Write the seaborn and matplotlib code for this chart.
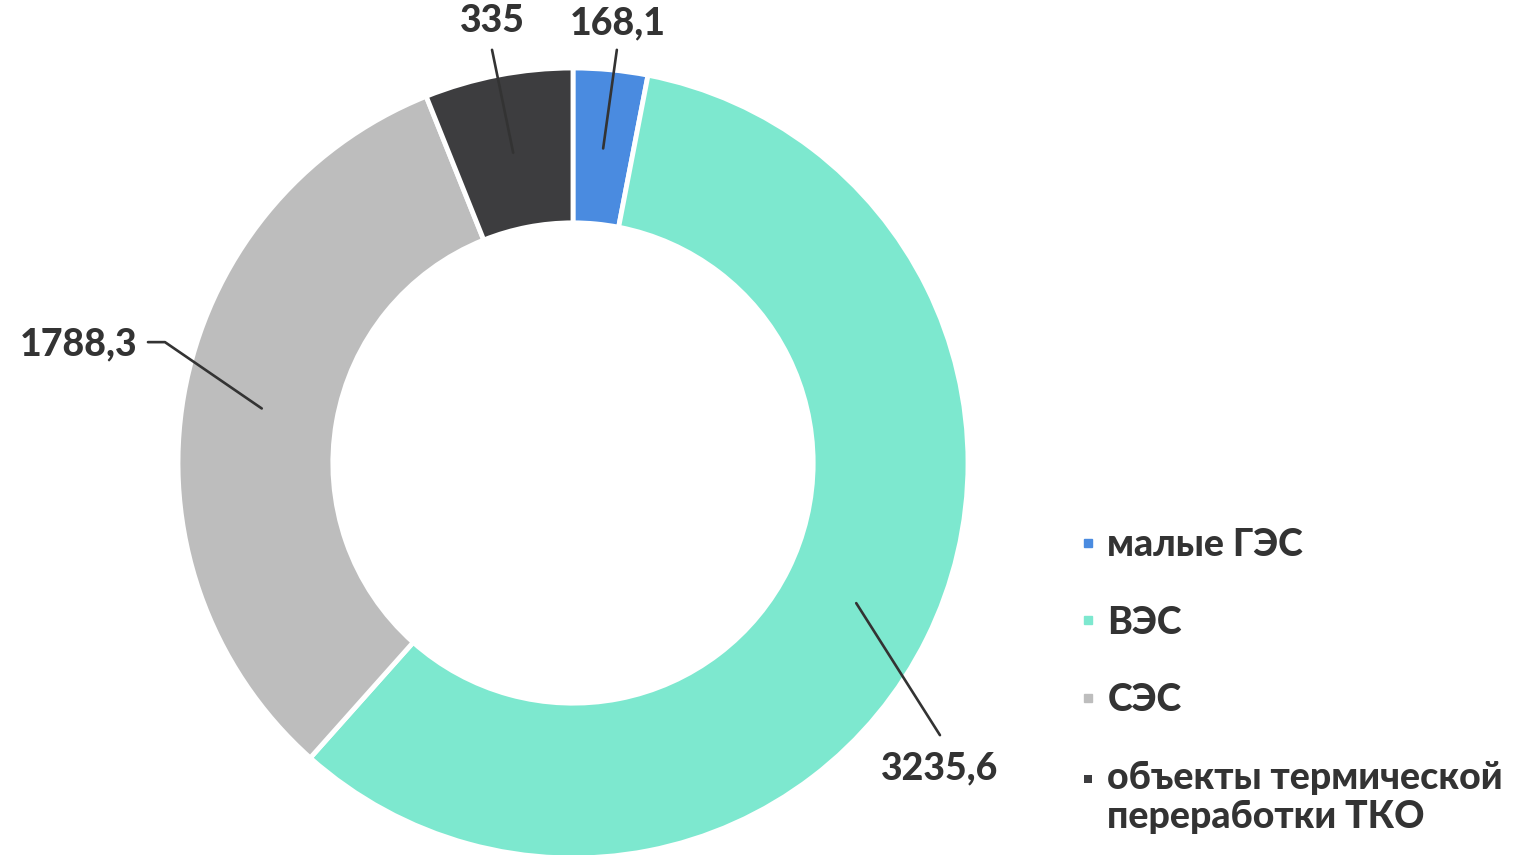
import matplotlib
matplotlib.use("Agg")
import matplotlib.pyplot as plt
from matplotlib.lines import Line2D
from matplotlib.path import Path
import seaborn as sns
import numpy as np

categories = ["малые ГЭС", "ВЭС", "СЭС", "объекты термической\nпереработки ТКО"]
values = [168.1, 3235.6, 1788.3, 335.0]
value_labels = ["168,1", "3235,6", "1788,3", "335"]
colors = ["#4a8be0", "#7de8cf", "#bdbdbd", "#3d3d3f"]

sns.set_theme(style="white")
plt.rcParams["font.family"] = ["Lato", "DejaVu Sans"]

W, H = 1524, 855
fig = plt.figure(figsize=(W / 100, H / 100), dpi=100)
ax = fig.add_axes([0, 0, 1, 1])
cx, cy, R = 573, 392, 395  # pixel centre (from bottom-left) and radius

wedges, _ = ax.pie(values, colors=colors, startangle=90, counterclock=False,
                   radius=1.0, wedgeprops=dict(width=0.392, edgecolor="white", linewidth=3.5))
ax.set_aspect("auto")
ax.set_xlim(-cx / R, (W - cx) / R)
ax.set_ylim(-cy / R, (H - cy) / R)
ax.axis("off")

txt_kw = dict(fontsize=27, fontweight="black", color="#333333")
line_kw = dict(color="#333333", lw=1.9)

# label layout: (line end, text position, ha, va, elbow)
layout = {
    "168,1": ((0.111, 1.046), (0.114, 1.112), "center", "center", None),
    "335": ((-0.205, 1.046), (-0.203, 1.118), "center", "center", None),
    "1788,3": ((-1.076, 0.306), (-1.102, 0.299), "right", "center", (-1.033, 0.306)),
    "3235,6": ((0.929, -0.689), (0.929, -0.772), "center", "center", None),
}

for w, lab in zip(wedges, value_labels):
    mid = np.deg2rad((w.theta1 + w.theta2) / 2)
    sx, sy = 0.80 * np.cos(mid), 0.80 * np.sin(mid)
    end, tpos, ha, va, elbow = layout[lab]
    if elbow is not None:
        ax.plot([sx, elbow[0], end[0]], [sy, elbow[1], end[1]], **line_kw, clip_on=False)
    else:
        ax.plot([sx, end[0]], [sy, end[1]], **line_kw, clip_on=False)
    ax.text(tpos[0], tpos[1], lab, ha=ha, va=va, **txt_kw)

# square marker raised to the first line of a two-line legend label
raised_sq = Path([(-4, 15), (4, 15), (4, 23), (-4, 23), (-4, 15)],
                 [Path.MOVETO, Path.LINETO, Path.LINETO, Path.LINETO, Path.CLOSEPOLY])
handles = []
for c, cat in zip(colors, categories):
    if "\n" in cat:
        handles.append(Line2D([0], [0], marker=raised_sq, linestyle="none", markersize=33,
                              markerfacecolor=c, markeredgecolor=c, markeredgewidth=0))
    else:
        handles.append(Line2D([0], [0], marker="s", linestyle="none", markersize=6,
                              markerfacecolor=c, markeredgecolor=c))
leg = fig.legend(handles, categories, loc="upper left",
                 bbox_to_anchor=(1080 / W, 1 - 528 / H), frameon=False,
                 prop=dict(family=["Lato", "DejaVu Sans"], size=27, weight="black"),
                 labelspacing=1.16, handlelength=0.4, handletextpad=0.33,
                 borderpad=0, borderaxespad=0)
for t in leg.get_texts():
    t.set_color("#333333")

fig.savefig("out.png", dpi=100, facecolor="white")
